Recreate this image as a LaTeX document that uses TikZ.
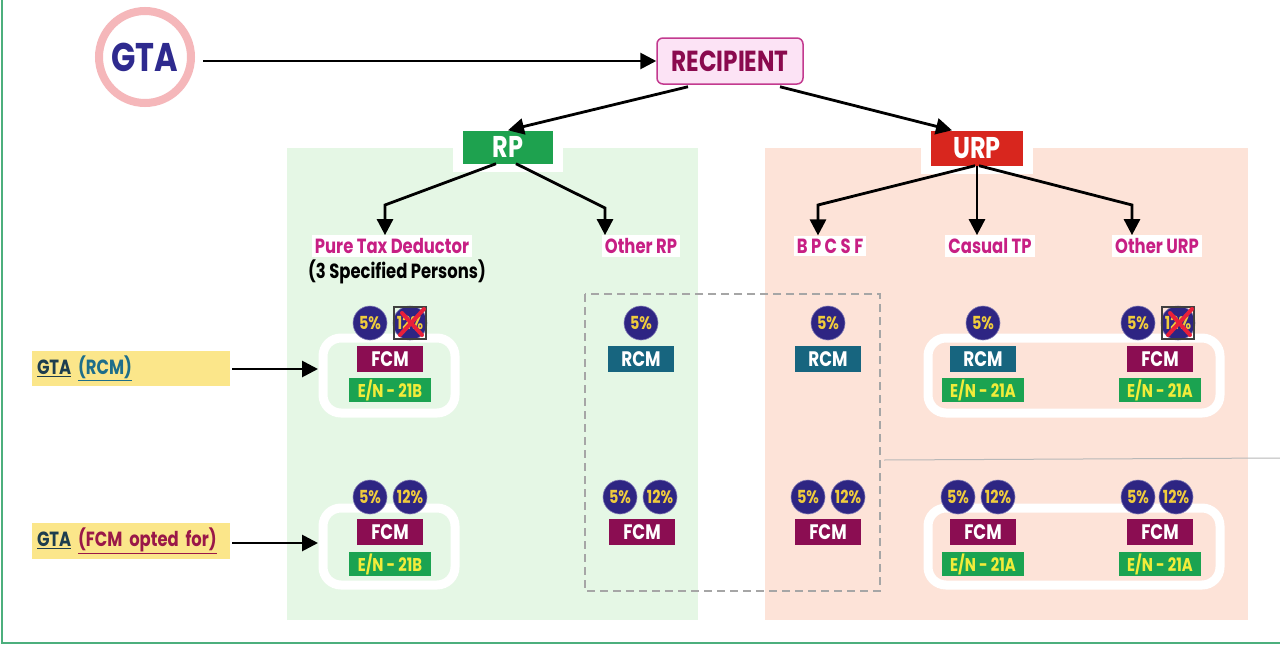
\documentclass[tikz,border=0pt]{standalone}
\usepackage{fontspec}
\setmainfont{Poppins}[FakeStretch=0.8]
\usetikzlibrary{arrows.meta,calc}
\definecolor{gtablue}{HTML}{2E2A8E}
\definecolor{ringpink}{HTML}{F5B7BA}
\definecolor{recfill}{HTML}{FCE3F5}
\definecolor{recborder}{HTML}{C33A8F}
\definecolor{rectext}{HTML}{8A0A4E}
\definecolor{rpgreen}{HTML}{1EA24F}
\definecolor{urpred}{HTML}{D8261E}
\definecolor{panelgreen}{HTML}{E5F7E5}
\definecolor{panelpink}{HTML}{FDE3D8}
\definecolor{labmag}{HTML}{C71F84}
\definecolor{pctblue}{HTML}{2E2583}
\definecolor{pctyellow}{HTML}{F0CC3C}
\definecolor{fcmcol}{HTML}{8B0D52}
\definecolor{rcmcol}{HTML}{17657F}
\definecolor{engreen}{HTML}{1BA351}
\definecolor{enyellow}{HTML}{F2EC3A}
\definecolor{lyellow}{HTML}{FBE68A}
\definecolor{gtadark}{HTML}{1D3D4E}
\definecolor{rcmtext}{HTML}{1E6E8A}
\definecolor{fcmtext}{HTML}{9A1848}
\definecolor{framegreen}{HTML}{4CAF7D}
\definecolor{xred}{HTML}{E8203A}
\newcommand\fs[1]{\fontsize{#1}{#1}\selectfont\bfseries}
\begin{document}
\begin{tikzpicture}[x=1pt,y=-1pt,
  arr/.style={-{Triangle[length=16pt,width=16pt]}, line width=2.8pt},
  lab/.style={fill=white, text=labmag, font=\fs{20.5}, inner sep=3pt},
  pct/.style={circle, fill=pctblue, draw=pctblue!60, line width=0.6pt, minimum size=34pt, inner sep=0pt, text=pctyellow, font=\fs{18}},
  fcm/.style={fill=fcmcol, text=white, minimum width=66pt, minimum height=26pt, inner sep=0pt, font=\fs{21}},
  rcm/.style={fill=rcmcol, text=white, minimum width=66pt, minimum height=26pt, inner sep=0pt, font=\fs{21}},
  en/.style={fill=engreen, text=enyellow, minimum width=82pt, minimum height=24pt, inner sep=0pt, font=\fs{18.5}},
  wframe/.style={draw=white, line width=9pt, rounded corners=18pt},
  ylab/.style={fill=lyellow, minimum height=28pt, text width=188pt, inner sep=5pt, align=left, font=\fs{20.5}},
  cross/.style={draw=black!75, line width=1.5pt},
  xmark/.style={draw=xred, line width=4pt, line cap=round}
]
\useasboundingbox (0,0) rectangle (1280,648);
\fill[white] (0,0) rectangle (1280,648);
% frame
\draw[framegreen, line width=2pt] (2,0) -- (2,643) -- (1280,643);
% panels
\fill[panelgreen] (287,148) rectangle (698,620);
\fill[panelpink] (765,148) rectangle (1248,620);
% white halos behind RP / URP
\fill[white] (453,124) rectangle (563,172);
\fill[white] (921,124) rectangle (1033,174);
% top nodes
\node[circle, draw=ringpink, line width=8pt, minimum size=92pt, font=\fs{40}, text=gtablue] (gta) at (145,57) {GTA};
\node[draw=recborder, fill=recfill, rounded corners=6pt, line width=1.5pt, minimum width=146pt, minimum height=46pt, text=rectext, font=\fs{29}] (rec) at (730,61) {RECIPIENT};
\node[fill=rpgreen, text=white, minimum width=90pt, minimum height=33pt, font=\fs{30}] (rp) at (508,147) {RP};
\node[fill=urpred, text=white, minimum width=92pt, minimum height=35pt, font=\fs{30}] (urp) at (977,148) {URP};
\draw[arr, shorten <=8pt] (gta.east |- rec.west) -- (rec.west);
\draw[arr] ($(rec.south)+(-42,2)$) -- (rp.north);
\draw[arr] ($(rec.south)+(50,2)$) -- ($(urp.north)+(-25,0)$);
% category labels
\node[lab] (ptd) at (392,246) {Pure Tax Deductor};
\node[font=\fs{20.5}, text=black, inner sep=0pt] (ptdsub) at (397,272) {(3 Specified Persons)};
\node[lab] (orp) at (641,246) {Other RP};
\node[lab] (bpcsf) at (830,246) {B P C S F};
\node[lab] (ctp) at (990,246) {Casual TP};
\node[lab] (ourp) at (1157,246) {Other URP};
\coordinate (k1) at (385,205);
\coordinate (k2) at (605,208);
\coordinate (k3) at (818,205);
\coordinate (k4) at (1132,205);
\draw[arr] ($(rp.south)+(-12,0)$) -- (k1) -- (k1 |- ptd.north);
\draw[arr] ($(rp.south)+(8,0)$) -- (k2) -- (k2 |- orp.north);
\draw[arr] ($(urp.south)+(-2,0)$) -- (k3) -- (k3 |- bpcsf.north);
\draw[arr] (urp.south) -- (urp.south |- ctp.north);
\draw[arr] ($(urp.south)+(2,0)$) -- (k4) -- (k4 |- ourp.north);
% dashed box and gray line
\draw[black!35, line width=2pt, dash pattern=on 8pt off 5pt] (585,294) rectangle (880,591);
\draw[black!28, line width=1pt] (884,460) -- (1280,458);
% white frames
\draw[wframe] (323,338) rectangle (455,413);
\draw[wframe] (323,508) rectangle (455,585);
\draw[wframe] (928,338) rectangle (1220,413);
\draw[wframe] (928,508) rectangle (1220,585);
% left labels
\node[ylab] (l1) at (131,368) {\textcolor{gtadark}{\underline{GTA}} \textcolor{rcmtext}{\underline{(RCM)}}};
\node[ylab] (l2) at (131,541) {\textcolor{gtadark}{\underline{GTA}} \textcolor{fcmtext}{\underline{(FCM opted for)}}};
\coordinate (w1) at (318,369);
\coordinate (w2) at (318,543);
\draw[arr, shorten <=2pt] (l1.east |- w1) -- (w1);
\draw[arr, shorten <=2pt] (l2.east |- w2) -- (w2);
% ---- Row 1 ----
% Pure tax deductor
\node[pct] (a1) at (370,323) {5\%};
\node[pct] (a2) at (410,323) {12\%};
\draw[cross] ($(a2)+(-16,-16)$) rectangle ($(a2)+(16,16)$);
\draw[xmark] ($(a2)+(-10,12)$) -- ($(a2)+(14,-14)$);
\draw[xmark] ($(a2)+(-8,-10)$) -- ($(a2)+(12,12)$);
\node[fcm] (af) at (390,359) {FCM};
\node[en] (ae) at (390,390) {E/N - 21B};
% Other RP
\node[pct] (b1) at (641,323) {5\%};
\node[rcm] (br) at (641,359) {RCM};
% BPCSF
\node[pct] (c1) at (828,323) {5\%};
\node[rcm] (cr) at (828,359) {RCM};
% Casual TP
\node[pct] (d1) at (983,323) {5\%};
\node[rcm] (dr) at (983,359) {RCM};
\node[en] (de) at (983,390) {E/N - 21A};
% Other URP
\node[pct] (e1) at (1138,323) {5\%};
\node[pct] (e2) at (1178,323) {12\%};
\draw[cross] ($(e2)+(-16,-16)$) rectangle ($(e2)+(16,16)$);
\draw[xmark] ($(e2)+(-10,12)$) -- ($(e2)+(14,-14)$);
\draw[xmark] ($(e2)+(-8,-10)$) -- ($(e2)+(12,12)$);
\node[fcm] (ef) at (1160,359) {FCM};
\node[en] (ee) at (1160,390) {E/N - 21A};
% ---- Row 2 ----
\node[pct] (a3) at (370,497) {5\%};
\node[pct] (a4) at (410,497) {12\%};
\node[fcm] (ag) at (390,532) {FCM};
\node[en] (ah) at (390,564) {E/N - 21B};
\node[pct] (b3) at (620,497) {5\%};
\node[pct] (b4) at (660,497) {12\%};
\node[fcm] (bg) at (642,532) {FCM};
\node[pct] (c3) at (808,497) {5\%};
\node[pct] (c4) at (848,497) {12\%};
\node[fcm] (cg) at (828,532) {FCM};
\node[pct] (d3) at (958,497) {5\%};
\node[pct] (d4) at (998,497) {12\%};
\node[fcm] (dg) at (983,532) {FCM};
\node[en] (dh) at (983,564) {E/N - 21A};
\node[pct] (e3) at (1138,497) {5\%};
\node[pct] (e4) at (1176,497) {12\%};
\node[fcm] (eg) at (1160,532) {FCM};
\node[en] (eh) at (1160,564) {E/N - 21A};
\end{tikzpicture}
\end{document}
